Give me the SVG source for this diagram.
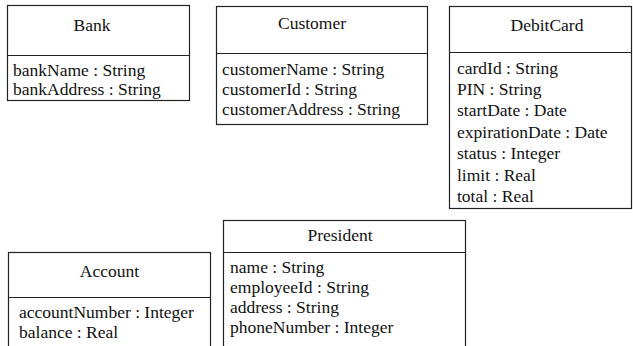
<svg xmlns="http://www.w3.org/2000/svg" width="633" height="346" viewBox="0 0 633 346">
<style>
.box{fill:#fff;stroke:#222;stroke-width:1.2}
.ln{stroke:#222;stroke-width:1.2}
text{font-family:'Liberation Serif',serif;font-size:17.5px;fill:#111}
.t{text-anchor:middle}
</style>
<rect width="633" height="346" fill="#fff"/>
<g id="Bank">
<rect class="box" x="7.5" y="5.5" width="182" height="95"/>
<line class="ln" x1="7.5" y1="55.5" x2="189.5" y2="55.5"/>
<text class="t" x="92" y="31">Bank</text>
<text x="13" y="76">bankName : String</text>
<text x="13" y="95">bankAddress : String</text>
</g>
<g id="Customer">
<rect class="box" x="216.5" y="6.5" width="211" height="118"/>
<line class="ln" x1="216.5" y1="53.5" x2="427.5" y2="53.5"/>
<text class="t" x="312" y="29">Customer</text>
<text x="222" y="75">customerName : String</text>
<text x="222" y="95">customerId : String</text>
<text x="222" y="115">customerAddress : String</text>
</g>
<g id="DebitCard">
<rect class="box" x="449.5" y="6.5" width="182" height="202"/>
<line class="ln" x1="449.5" y1="52.5" x2="631.5" y2="52.5"/>
<text class="t" x="547" y="31">DebitCard</text>
<text x="457" y="74">cardId : String</text>
<text x="457" y="95">PIN : String</text>
<text x="457" y="116">startDate : Date</text>
<text x="457" y="138">expirationDate : Date</text>
<text x="457" y="159">status : Integer</text>
<text x="457" y="181">limit : Real</text>
<text x="457" y="202">total : Real</text>
</g>
<g id="Account">
<rect class="box" x="8.5" y="252.5" width="202" height="100"/>
<line class="ln" x1="8.5" y1="297.5" x2="210.5" y2="297.5"/>
<text class="t" x="109.5" y="277">Account</text>
<text x="19" y="318">accountNumber : Integer</text>
<text x="19" y="338">balance : Real</text>
</g>
<g id="President">
<rect class="box" x="223.5" y="220.5" width="242" height="130"/>
<line class="ln" x1="223.5" y1="252.5" x2="465.5" y2="252.5"/>
<text class="t" x="340" y="241">President</text>
<text x="230" y="273">name : String</text>
<text x="230" y="293">employeeId : String</text>
<text x="230" y="313">address : String</text>
<text x="230" y="333">phoneNumber : Integer</text>
</g>
<g id="connectors"/>
</svg>
